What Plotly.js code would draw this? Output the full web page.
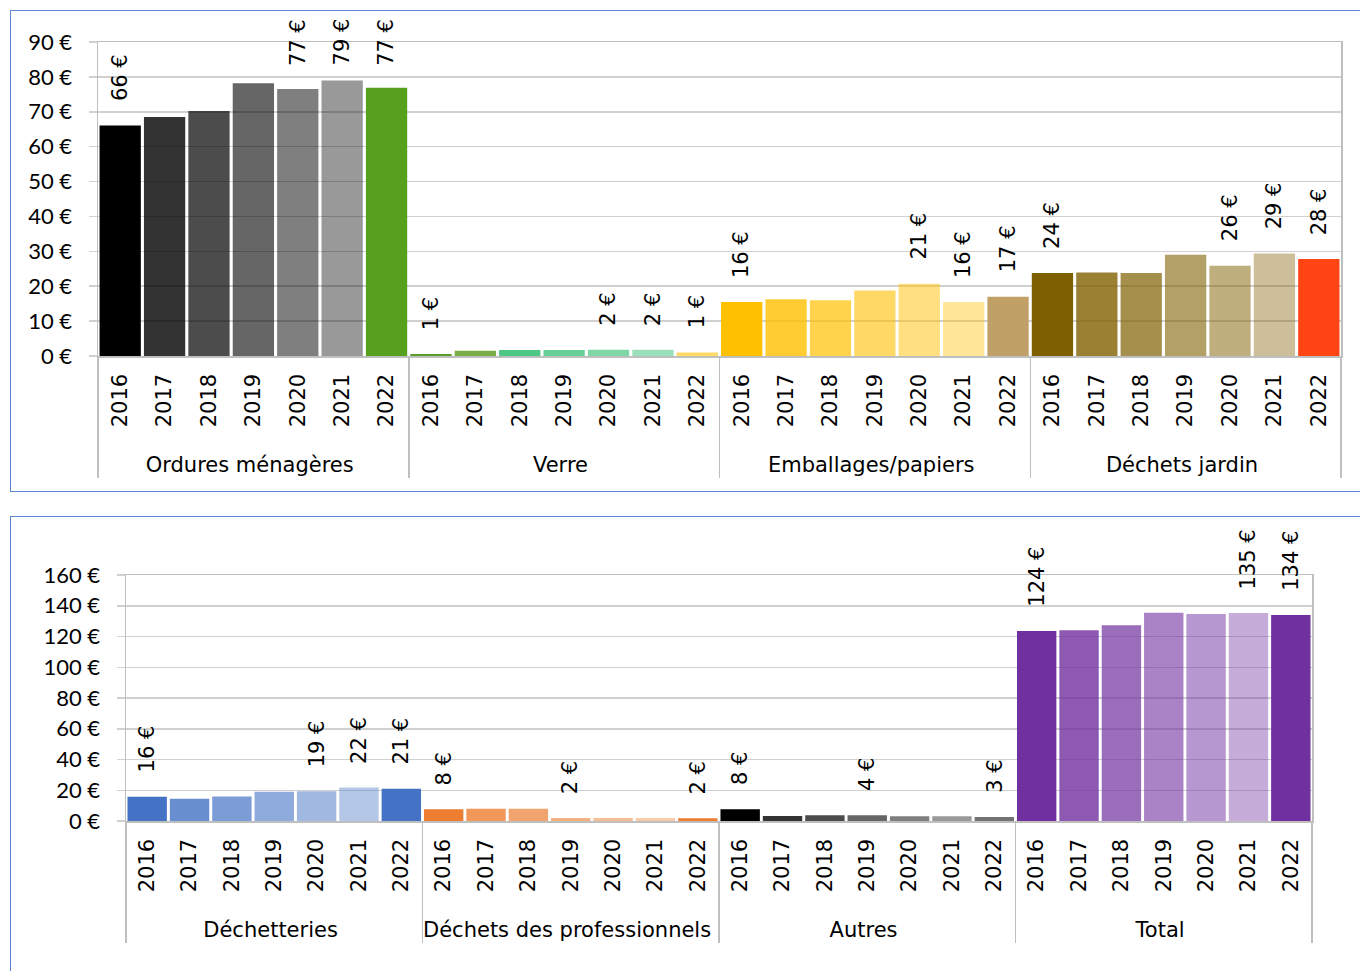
<!DOCTYPE html>
<html>
<head>
<meta charset="utf-8">
<script src="https://cdn.plot.ly/plotly-3.0.1.min.js"></script>
<style>
  html, body { margin: 0; padding: 0; background: #ffffff; overflow: hidden; width: 1360px; height: 971px; }
  .box { position: absolute; left: 10px; width: 1360px; height: 480px; border: 1.5px solid #5b86d2; background: #fff; }
  #top { top: 10px; }
  #bottom { top: 516px; }
</style>
</head>
<body>
<div id="top" class="box"></div>
<div id="bottom" class="box"></div>
<script>
// ---------- DATA ----------
const years = ['2016', '2017', '2018', '2019', '2020', '2021', '2022'];

const groupsTop = ['Ordures ménagères', 'Verre', 'Emballages/papiers', 'Déchets jardin'];
const ordures      = [66.1, 68.5, 70.2, 78.2, 76.5, 79.0, 76.9];
const verre        = [0.6, 1.5, 1.7, 1.7, 1.8, 1.8, 1.0];
const emballages   = [15.5, 16.3, 16.0, 18.8, 20.7, 15.5, 17.0];
const jardin       = [23.8, 23.9, 23.8, 29.0, 25.9, 29.4, 27.8];

const groupsBottom = ['Déchetteries', 'Déchets des professionnels', 'Autres', 'Total'];
const dechetteries   = [15.8, 14.5, 16.0, 19.0, 19.4, 21.8, 21.0];
const professionnels = [7.6, 8.0, 8.0, 2.0, 2.0, 2.0, 1.8];
const autres         = [7.6, 3.2, 3.7, 3.7, 3.1, 3.1, 2.6];
const total          = [123.6, 124.1, 127.3, 135.5, 134.7, 135.3, 134.0];

// years that carry a value label, per group
const labelsOrdures      = ['2016', '2020', '2021', '2022'];
const labelsVerre        = ['2016', '2020', '2021', '2022'];
const labelsEmballages   = ['2016', '2020', '2021', '2022'];
const labelsJardin       = ['2016', '2020', '2021', '2022'];
const labelsDechetteries = ['2016', '2020', '2021', '2022'];
const labelsPro          = ['2016', '2019', '2022'];
const labelsAutres       = ['2016', '2019', '2022'];
const labelsTotal        = ['2016', '2021', '2022'];

// ---------- STYLES ----------
const fade = [1, 0.8, 0.7, 0.6, 0.5, 0.4];
const colorsOrdures      = ['#000000','#000000','#000000','#000000','#000000','#000000','#57a01e'];
const opacOrdures        = fade.concat([1]);
const colorsVerre        = ['#5a9b2b','#78ad46','#00b050','#00b050','#00b050','#00b050','#ffd966'];
const opacVerre          = [1, 1, 0.7, 0.6, 0.5, 0.4, 1];
const colorsEmballages   = ['#ffc000','#ffc000','#ffc000','#ffc000','#ffc000','#ffc000','#c0a066'];
const opacEmballages     = fade.concat([1]);
const colorsJardin       = ['#7f6000','#7f6000','#7f6000','#7f6000','#7f6000','#7f6000','#ff4513'];
const opacJardin         = fade.concat([1]);
const colorsDechetteries = ['#4472c4','#4472c4','#4472c4','#4472c4','#4472c4','#4472c4','#4472c4'];
const opacDechetteries   = fade.concat([1]);
const colorsPro          = ['#ed7d31','#ed7d31','#ed7d31','#ed7d31','#ed7d31','#ed7d31','#ed7d31'];
const opacPro            = fade.concat([1]);
const colorsAutres       = ['#000000','#000000','#000000','#000000','#000000','#000000','#000000'];
const opacAutres         = fade.concat([0.55]);
const colorsTotal        = ['#7030a0','#7030a0','#7030a0','#7030a0','#7030a0','#7030a0','#7030a0'];
const opacTotal          = fade.concat([1]);

const GRID = '#d0d0d0';
const LINE = '#bfbfbf';
const TXT = '#000000';
const LABEL_FONT = {family: 'DejaVu Sans', size: 21, color: TXT};
const LABEL_GAP = 22;      // px between bar top and its value label
const LABEL_CAP = 10;      // topmost px (inside the chart box) a value label may reach
const YEAR_PAD = '\u00a0\u00a0'; // extra room below the year labels, pushes group labels down

const measureCtx = document.createElement('canvas').getContext('2d');
function textLen(str, font) {
  measureCtx.font = font.size + 'px "' + font.family + '"';
  return measureCtx.measureText(str).width;
}

function buildChart(divId, groups, series, colors, opacs, labelYears, yMax, yStep, margin) {
  const H = 480;
  const plotH = H - margin.t - margin.b;
  const outer = [], inner = [], vals = [], cols = [], ops = [];
  const annotations = [];
  groups.forEach((g, gi) => {
    years.forEach((yr, yi) => {
      const v = series[gi][yi];
      outer.push(g); inner.push(YEAR_PAD + yr);
      vals.push(v);
      cols.push(colors[gi][yi]);
      ops.push(opacs[gi][yi]);
      if (labelYears[gi].indexOf(yr) >= 0) {
        const txt = Math.round(v) + ' €';
        // keep the label inside the chart box (as the original does)
        const barTopPx = margin.t + (1 - v / yMax) * plotH;
        const labelTop = barTopPx - LABEL_GAP - textLen(txt, LABEL_FONT);
        const shift = labelTop < LABEL_CAP ? LABEL_GAP - (LABEL_CAP - labelTop) : LABEL_GAP;
        annotations.push({
          x: gi * years.length + yi, y: v, xref: 'x', yref: 'y',
          text: txt,
          textangle: -90, showarrow: false,
          xanchor: 'center', yanchor: 'bottom', yshift: shift,
          font: LABEL_FONT
        });
      }
    });
  });
  const trace = {
    type: 'bar',
    x: [outer, inner],
    y: vals,
    marker: {color: cols, opacity: ops, line: {width: 0}},
    hoverinfo: 'skip'
  };
  const layout = {
    width: 1360, height: H,
    margin: margin,
    paper_bgcolor: '#ffffff', plot_bgcolor: '#ffffff',
    showlegend: false,
    bargap: 0.07,
    xaxis: {
      type: 'multicategory',
      tickangle: -90,
      tickfont: {family: 'DejaVu Sans', size: 21, color: TXT},
      showline: true, linecolor: LINE, linewidth: 1.5, mirror: true,
      showgrid: false, ticks: '',
      ticklabelstandoff: 8,
      showdividers: true, dividercolor: LINE, dividerwidth: 1.5,
      automargin: false, fixedrange: true
    },
    yaxis: {
      range: [0, yMax], dtick: yStep, tick0: 0,
      ticksuffix: ' €',
      tickfont: {family: 'Lato', size: 22, color: TXT},
      showgrid: true, gridcolor: GRID, gridwidth: 1.5,
      showline: true, linecolor: LINE, linewidth: 1.5, mirror: true,
      ticks: 'outside', ticklen: 8, tickcolor: GRID, tickwidth: 1.5,
      ticklabelstandoff: 12,
      zeroline: false, automargin: false, fixedrange: true
    },
    annotations: annotations
  };
  Plotly.newPlot(divId, [trace], layout, {displayModeBar: false, staticPlot: true});
}

buildChart('top', groupsTop,
  [ordures, verre, emballages, jardin],
  [colorsOrdures, colorsVerre, colorsEmballages, colorsJardin],
  [opacOrdures, opacVerre, opacEmballages, opacJardin],
  [labelsOrdures, labelsVerre, labelsEmballages, labelsJardin],
  90, 10, {l: 87, r: 30, t: 31, b: 135});

buildChart('bottom', groupsBottom,
  [dechetteries, professionnels, autres, total],
  [colorsDechetteries, colorsPro, colorsAutres, colorsTotal],
  [opacDechetteries, opacPro, opacAutres, opacTotal],
  [labelsDechetteries, labelsPro, labelsAutres, labelsTotal],
  160, 20, {l: 115, r: 59, t: 58, b: 176});
</script>
</body>
</html>
